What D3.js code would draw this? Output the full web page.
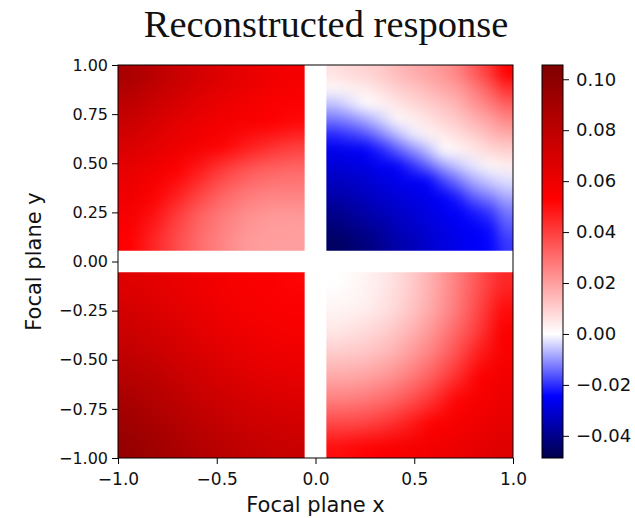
<!DOCTYPE html>
<html>
<head>
<meta charset="utf-8">
<script src="https://cdn.jsdelivr.net/npm/d3@7"></script>
<style>
  body { margin: 0; background: #fff; }
  svg text { fill: #111; }
</style>
</head>
<body>
<script>
// field values, rows top -> bottom, cols left -> right
const quadTL = [
  [0.088, 0.081, 0.075, 0.070, 0.066, 0.062, 0.059, 0.057],
  [0.081, 0.075, 0.070, 0.065, 0.061, 0.058, 0.055, 0.054],
  [0.074, 0.069, 0.064, 0.060, 0.057, 0.055, 0.053, 0.051],
  [0.068, 0.064, 0.060, 0.056, 0.052, 0.047, 0.043, 0.040],
  [0.062, 0.058, 0.053, 0.047, 0.040, 0.035, 0.032, 0.031],
  [0.059, 0.054, 0.047, 0.039, 0.032, 0.028, 0.026, 0.026],
  [0.056, 0.049, 0.040, 0.032, 0.027, 0.023, 0.021, 0.021],
  [0.053, 0.045, 0.037, 0.030, 0.025, 0.021, 0.020, 0.020]
];
const quadTR = [
  [0.006, 0.008, 0.009, 0.011, 0.014, 0.017, 0.019, 0.022, 0.026, 0.034, 0.042, 0.053],
  [0.001, 0.003, 0.004, 0.007, 0.010, 0.012, 0.015, 0.018, 0.021, 0.027, 0.034, 0.043],
  [-0.006, -0.003, 0.000, 0.002, 0.005, 0.008, 0.010, 0.013, 0.016, 0.022, 0.027, 0.033],
  [-0.013, -0.011, -0.008, -0.004, 0.001, 0.003, 0.006, 0.009, 0.012, 0.016, 0.020, 0.025],
  [-0.021, -0.019, -0.017, -0.012, -0.007, -0.002, 0.002, 0.004, 0.007, 0.010, 0.014, 0.017],
  [-0.027, -0.026, -0.025, -0.021, -0.016, -0.011, -0.006, 0.000, 0.002, 0.005, 0.008, 0.010],
  [-0.030, -0.029, -0.028, -0.026, -0.025, -0.020, -0.015, -0.009, -0.005, -0.002, 0.001, 0.003],
  [-0.033, -0.032, -0.031, -0.029, -0.027, -0.026, -0.025, -0.018, -0.013, -0.008, -0.005, -0.003],
  [-0.036, -0.035, -0.033, -0.031, -0.030, -0.028, -0.027, -0.025, -0.021, -0.015, -0.012, -0.008],
  [-0.040, -0.038, -0.036, -0.034, -0.032, -0.030, -0.028, -0.026, -0.025, -0.022, -0.019, -0.013],
  [-0.043, -0.041, -0.039, -0.037, -0.034, -0.032, -0.030, -0.028, -0.026, -0.025, -0.023, -0.016],
  [-0.046, -0.044, -0.042, -0.039, -0.036, -0.034, -0.031, -0.029, -0.027, -0.025, -0.024, -0.019]
];
const quadBL = [
  [0.066, 0.064, 0.061, 0.059, 0.057, 0.055, 0.054, 0.052],
  [0.070, 0.067, 0.064, 0.061, 0.058, 0.056, 0.055, 0.054],
  [0.074, 0.071, 0.068, 0.064, 0.061, 0.059, 0.057, 0.056],
  [0.078, 0.075, 0.071, 0.068, 0.065, 0.062, 0.060, 0.059],
  [0.083, 0.080, 0.076, 0.072, 0.069, 0.066, 0.064, 0.063],
  [0.088, 0.084, 0.080, 0.076, 0.073, 0.070, 0.068, 0.067],
  [0.092, 0.088, 0.084, 0.080, 0.077, 0.074, 0.072, 0.071],
  [0.096, 0.092, 0.088, 0.084, 0.081, 0.078, 0.076, 0.075]
];
const quadBR = [
  [0.000, 0.002, 0.005, 0.010, 0.017, 0.026, 0.036, 0.045],
  [0.002, 0.003, 0.006, 0.011, 0.018, 0.027, 0.038, 0.050],
  [0.005, 0.007, 0.010, 0.015, 0.022, 0.031, 0.041, 0.054],
  [0.011, 0.012, 0.015, 0.020, 0.027, 0.036, 0.047, 0.055],
  [0.018, 0.019, 0.022, 0.027, 0.034, 0.043, 0.053, 0.058],
  [0.027, 0.028, 0.031, 0.036, 0.043, 0.052, 0.056, 0.060],
  [0.038, 0.039, 0.042, 0.047, 0.053, 0.056, 0.059, 0.063],
  [0.050, 0.052, 0.054, 0.056, 0.058, 0.060, 0.063, 0.066]
];
// quadrant extents [x0, x1, y0, y1]
const quadExtents = [
  [-1, -0.055, 0.055, 1],
  [0.055, 1, 0.055, 1],
  [-1, -0.055, -1, -0.055],
  [0.055, 1, -1, -0.055]
];
const xTicks = [-1, -0.5, 0, 0.5, 1];
const yTicks = [-1, -0.75, -0.5, -0.25, 0, 0.25, 0.5, 0.75, 1];
const cbTicks = [-0.04, -0.02, 0, 0.02, 0.04, 0.06, 0.08, 0.10];
const vMin = -0.0487, vMax = 0.1056;

const W = 635, H = 518;
const plot = { left: 118, right: 513, top: 65, bottom: 458 };
const cb = { left: 542, right: 563 };

const svg = d3.select("body").append("svg").attr("width", W).attr("height", H);
const defs = svg.append("defs");

const x = d3.scaleLinear().domain([-1, 1]).range([plot.left, plot.right]);
const y = d3.scaleLinear().domain([-1, 1]).range([plot.bottom, plot.top]);

// seismic colormap, two-slope around 0
const color = d3.scaleLinear()
  .domain([vMin, vMin / 2, 0, vMax / 2, vMax])
  .range(["#00004c", "#0000ff", "#ffffff", "#ff0000", "#7f0000"])
  .clamp(true);

// soften the upscaled grid; alpha is pushed back to 1 so edges keep their colour
const smooth = defs.append("filter")
  .attr("id", "smooth")
  .attr("color-interpolation-filters", "sRGB")
  .attr("x", "-5%").attr("y", "-5%").attr("width", "110%").attr("height", "110%");
smooth.append("feGaussianBlur").attr("stdDeviation", 5);
smooth.append("feComponentTransfer")
  .append("feFuncA").attr("type", "table").attr("tableValues", "0 1 1 1 1 1 1 1 1 1");

const quads = [quadTL, quadTR, quadBL, quadBR];
quads.forEach((grid, qi) => {
  const [x0, x1, y0, y1] = quadExtents[qi];
  const nr = grid.length, nc = grid[0].length;
  const canvas = document.createElement("canvas");
  canvas.width = nc;
  canvas.height = nr;
  const ctx = canvas.getContext("2d");
  const img = ctx.createImageData(nc, nr);
  grid.forEach((row, r) => row.forEach((v, c) => {
    const col = d3.rgb(color(v));
    const k = (r * nc + c) * 4;
    img.data[k] = col.r;
    img.data[k + 1] = col.g;
    img.data[k + 2] = col.b;
    img.data[k + 3] = 255;
  }));
  ctx.putImageData(img, 0, 0);

  defs.append("clipPath").attr("id", "clip" + qi)
    .append("rect")
    .attr("x", x(x0)).attr("y", y(y1))
    .attr("width", x(x1) - x(x0)).attr("height", y(y0) - y(y1));

  svg.append("g")
    .attr("clip-path", `url(#clip${qi})`)
    .append("image")
    .attr("href", canvas.toDataURL())
    .attr("x", x(x0))
    .attr("y", y(y1))
    .attr("width", x(x1) - x(x0))
    .attr("height", y(y0) - y(y1))
    .attr("preserveAspectRatio", "none")
    .attr("filter", "url(#smooth)");
});

// frame
svg.append("rect")
  .attr("x", plot.left).attr("y", plot.top)
  .attr("width", plot.right - plot.left).attr("height", plot.bottom - plot.top)
  .attr("fill", "none").attr("stroke", "#000").attr("stroke-width", 1);

const tickFont = "'DejaVu Sans', sans-serif";

const xAxis = svg.append("g")
  .attr("transform", `translate(0,${plot.bottom})`)
  .call(d3.axisBottom(x).tickValues(xTicks).tickFormat(d3.format(".1f")).tickSize(6).tickPadding(9));
const yAxis = svg.append("g")
  .attr("transform", `translate(${plot.left},0)`)
  .call(d3.axisLeft(y).tickValues(yTicks).tickFormat(d3.format(".2f")).tickSize(6).tickPadding(4));
[xAxis, yAxis].forEach(a => {
  a.select(".domain").remove();
  a.selectAll("line").attr("stroke", "#000");
  a.selectAll("text").style("font-family", tickFont).attr("fill", "#111");
});
xAxis.selectAll("text").style("font-size", "17px");
yAxis.selectAll("text").style("font-size", "16px");

// colorbar
const cbScale = d3.scaleLinear().domain([vMin, vMax]).range([plot.bottom, plot.top]);
const grad = defs.append("linearGradient")
  .attr("id", "cbGrad").attr("x1", 0).attr("y1", 1).attr("x2", 0).attr("y2", 0);
grad.selectAll("stop")
  .data(color.domain())
  .join("stop")
  .attr("offset", d => (d - vMin) / (vMax - vMin))
  .attr("stop-color", d => color(d));
svg.append("rect")
  .attr("x", cb.left).attr("y", plot.top)
  .attr("width", cb.right - cb.left).attr("height", plot.bottom - plot.top)
  .attr("fill", "url(#cbGrad)").attr("stroke", "#000").attr("stroke-width", 1);
const cbAxis = svg.append("g")
  .attr("transform", `translate(${cb.right},0)`)
  .call(d3.axisRight(cbScale).tickValues(cbTicks).tickFormat(d3.format(".2f")).tickSize(6).tickPadding(7));
cbAxis.select(".domain").remove();
cbAxis.selectAll("line").attr("stroke", "#000");
cbAxis.selectAll("text").style("font-family", tickFont).style("font-size", "18px").attr("fill", "#111");

// labels
svg.append("text")
  .attr("x", (plot.left + plot.right) / 2).attr("y", 512)
  .attr("text-anchor", "middle")
  .style("font-family", tickFont).style("font-size", "21px")
  .text("Focal plane x");
svg.append("text")
  .attr("transform", `translate(41,${(plot.top + plot.bottom) / 2}) rotate(-90)`)
  .attr("text-anchor", "middle")
  .style("font-family", tickFont).style("font-size", "21px")
  .text("Focal plane y");
svg.append("text")
  .attr("x", 326).attr("y", 37)
  .attr("text-anchor", "middle")
  .style("font-family", "'Liberation Serif', 'Times New Roman', serif").style("font-size", "38.5px")
  .text("Reconstructed response");
</script>
</body>
</html>
